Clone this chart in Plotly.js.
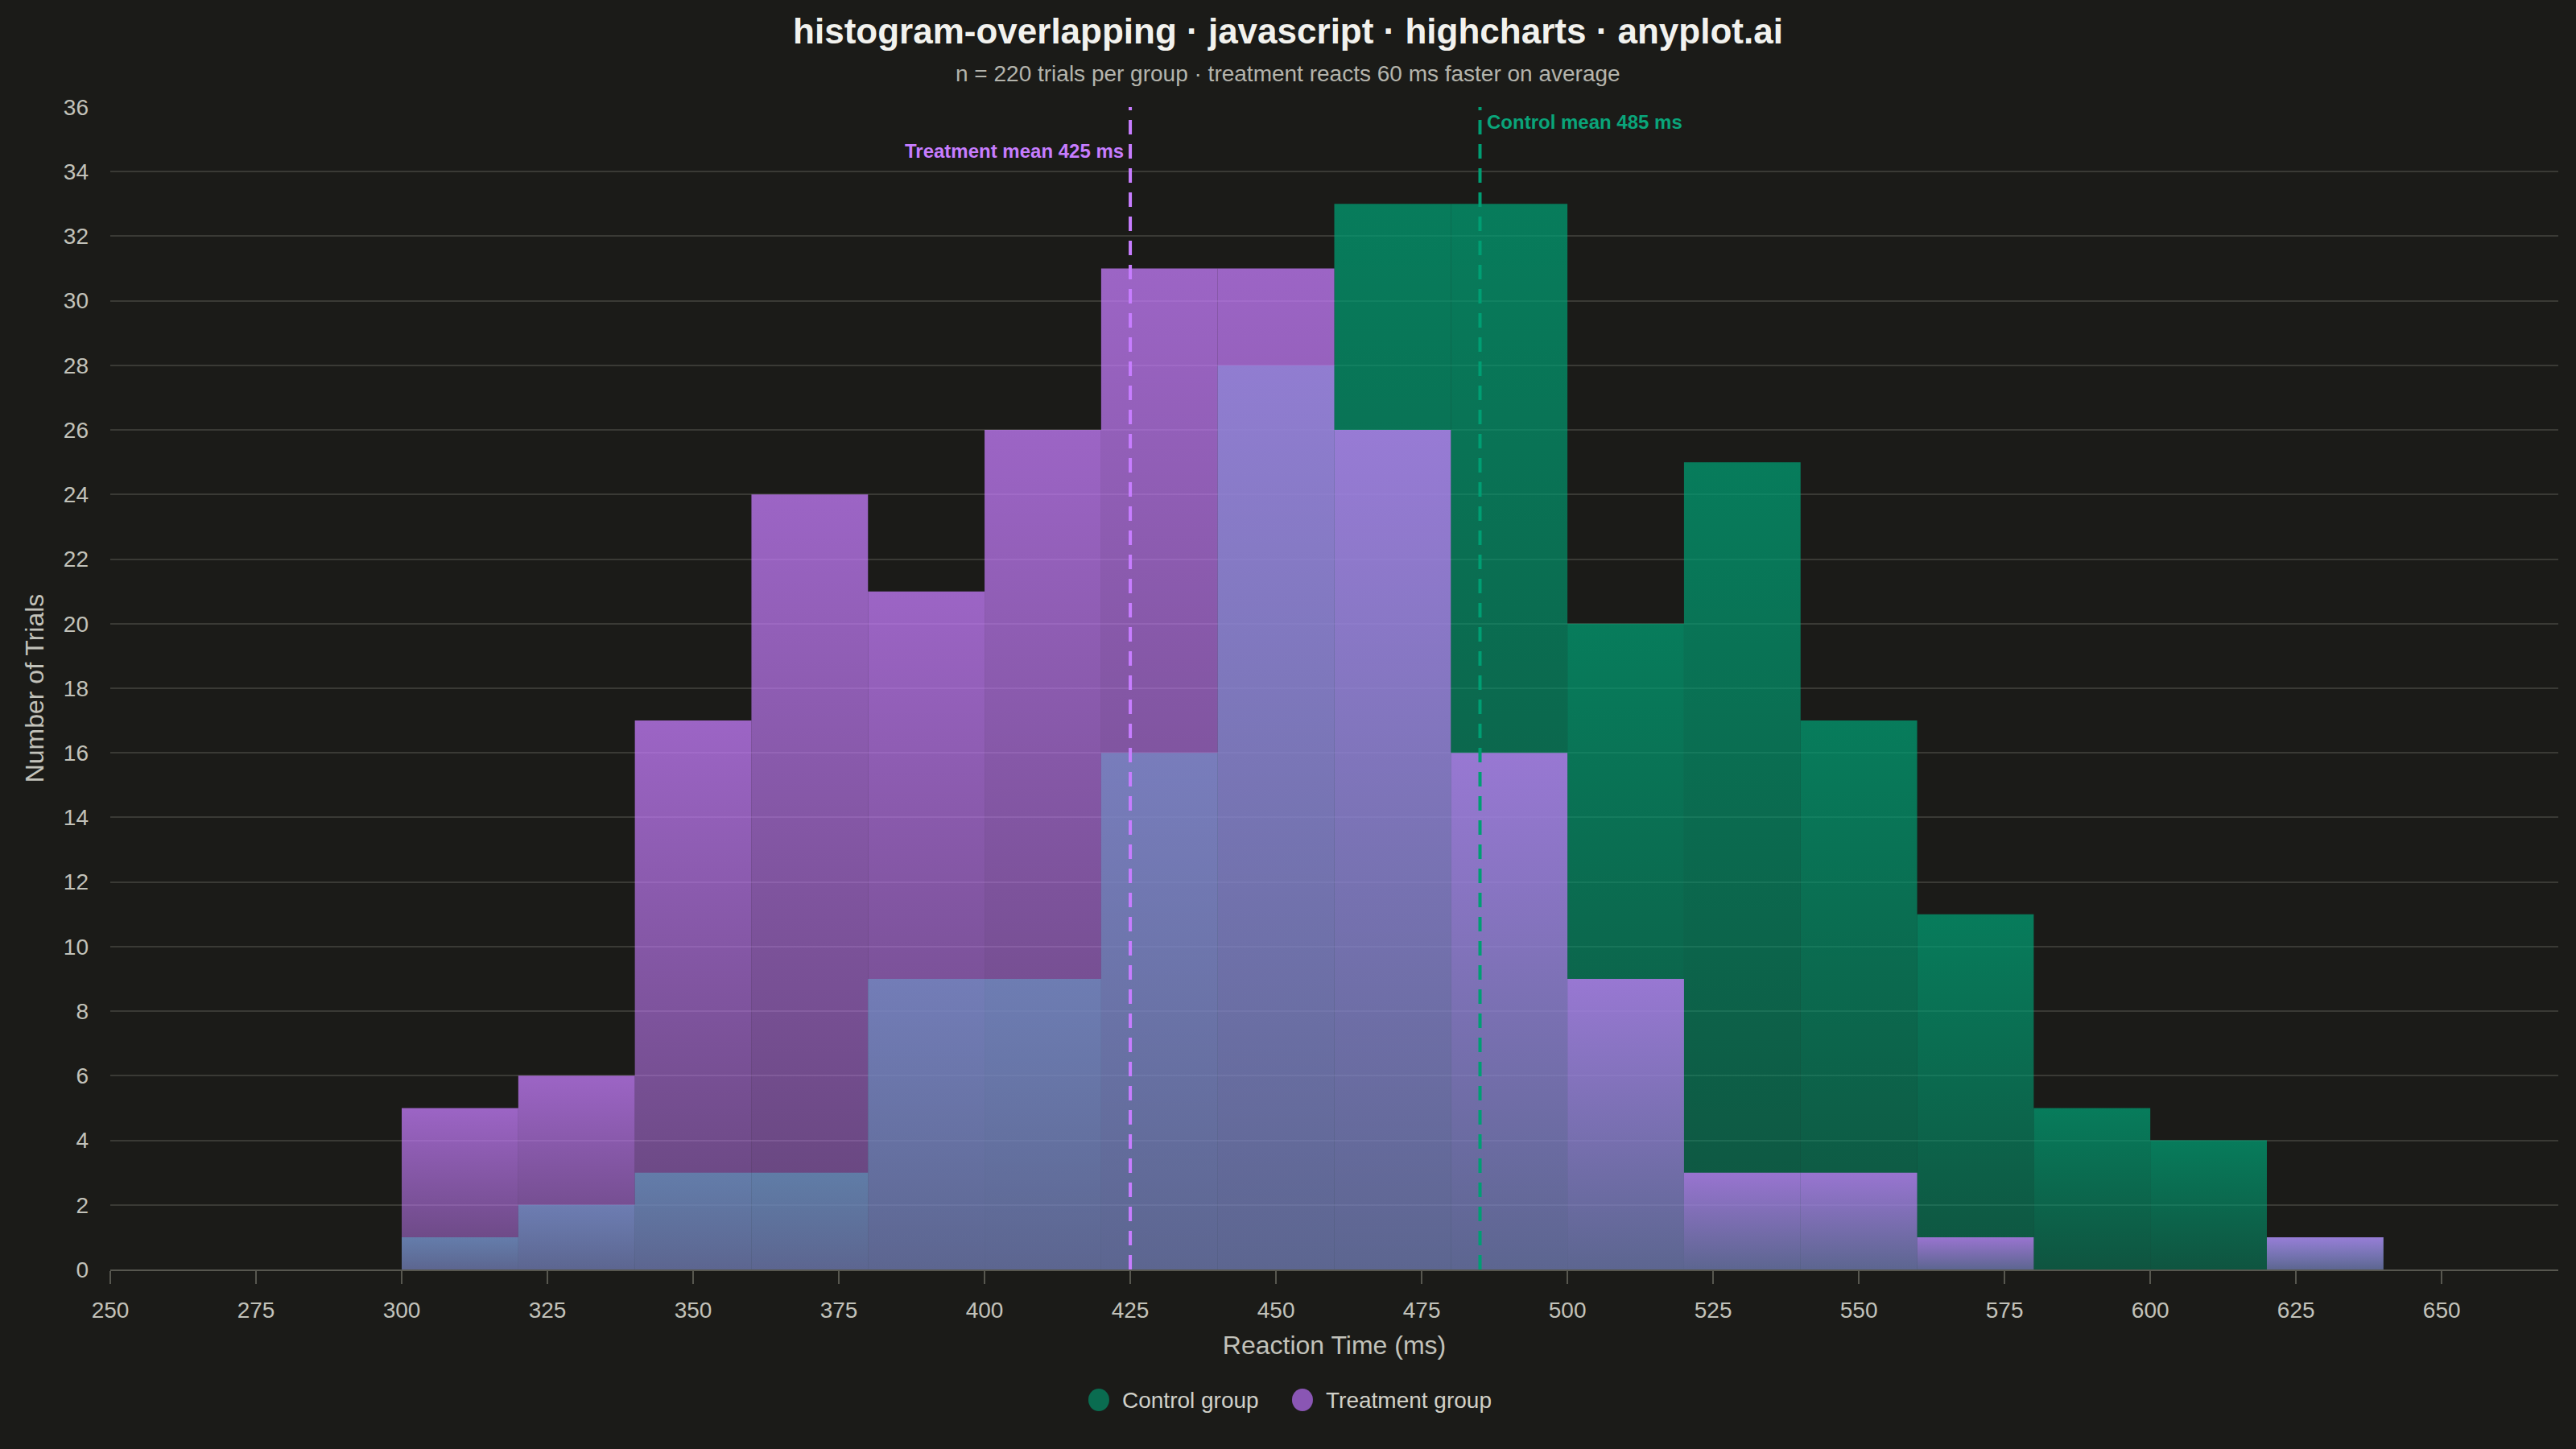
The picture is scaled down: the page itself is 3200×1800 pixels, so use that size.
<!DOCTYPE html>
<html>
<head>
<meta charset="utf-8">
<script src="https://cdn.plot.ly/plotly-3.0.1.min.js"></script>
<style>
  html, body { margin: 0; padding: 0; background: #1b1b18; }
  #chart { width: 3200px; height: 1800px; }
</style>
</head>
<body>
<div id="chart"></div>
<script>
// bins of 20 ms, left edges
var binStart = [300, 320, 340, 360, 380, 400, 420, 440, 460, 480, 500, 520, 540, 560, 580, 600, 620];
var binWidth = 20;
var controlCounts   = [1, 2, 3, 3, 9, 9, 16, 28, 33, 33, 20, 25, 17, 11, 5, 4, 1];
var treatmentCounts = [5, 6, 17, 24, 21, 26, 31, 31, 26, 16, 9, 3, 3, 1, 0, 0, 1];
var controlMean = 485;
var treatmentMean = 425;
var groupNames = ["Control group", "Treatment group"];

var font = "Liberation Sans, Arial, sans-serif";
var green = '#009E73';
var purple = '#C77DFF';

// one filled column per bin so each bar gets its own top-to-bottom gradient
function histColumns(counts, rgb, aBottom, aTop, name) {
  var out = [];
  counts.forEach(function (c, i) {
    if (c === 0) return;
    var x0 = binStart[i], x1 = binStart[i] + binWidth;
    out.push({
      type: 'scatter',
      mode: 'lines',
      name: name,
      x: [x0, x0, x1, x1, x0],
      y: [0, c, c, 0, 0],
      fill: 'toself',
      fillgradient: {
        type: 'vertical',
        colorscale: [[0, 'rgba(' + rgb + ',' + aBottom + ')'], [1, 'rgba(' + rgb + ',' + aTop + ')']]
      },
      line: { width: 0 },
      showlegend: false,
      hoverinfo: 'skip'
    });
  });
  return out;
}

var data = histColumns(controlCounts, '0,158,115', 0.44, 0.74, groupNames[0])
  .concat(histColumns(treatmentCounts, '199,125,255', 0.42, 0.75, groupNames[1]));

var layout = {
  width: 3200,
  height: 1800,
  paper_bgcolor: '#1b1b18',
  plot_bgcolor: '#1b1b18',
  font: { family: font, color: '#c2c2ba', size: 28 },
  margin: { l: 137, r: 22, t: 133, b: 223 },
  showlegend: false,
  title: {
    text: "<b>histogram-overlapping · javascript · highcharts · anyplot.ai</b>",
    font: { family: font, size: 44, color: '#f2f2ee' },
    x: 0.5, xanchor: 'center',
    y: 1 - 39 / 1800, yref: 'container', yanchor: 'middle'
  },
  xaxis: {
    title: { text: "Reaction Time (ms)", font: { size: 32, color: '#c2c2ba' }, standoff: 18 },
    range: [250, 670],
    tick0: 250,
    dtick: 25,
    showgrid: false,
    zeroline: false,
    showline: true,
    linecolor: '#57574f',
    linewidth: 2,
    ticks: 'outside',
    ticklen: 16,
    tickwidth: 2,
    tickcolor: '#57574f',
    ticklabelstandoff: 8,
    tickfont: { size: 28, color: '#c2c2ba' },
    fixedrange: true
  },
  yaxis: {
    title: { text: "Number of Trials", font: { size: 32, color: '#c2c2ba' }, standoff: 14 },
    range: [0, 36],
    dtick: 2,
    gridcolor: '#3a3a35',
    gridwidth: 2,
    zeroline: false,
    showline: false,
    ticks: '',
    ticklabelstandoff: 26,
    tickfont: { size: 28, color: '#c2c2ba' },
    fixedrange: true
  },
  shapes: [
    {
      type: 'line', xref: 'x', yref: 'paper',
      x0: treatmentMean, x1: treatmentMean, y0: 0, y1: 1,
      line: { color: purple, width: 4, dash: '18px,12px' }
    },
    {
      type: 'line', xref: 'x', yref: 'paper',
      x0: controlMean, x1: controlMean, y0: 0, y1: 1,
      line: { color: green, width: 4, dash: '18px,12px' }
    },
    // legend keys
    {
      type: 'circle', xref: 'paper', yref: 'paper',
      xsizemode: 'pixel', ysizemode: 'pixel',
      xanchor: 0.4038, yanchor: -0.1122,
      x0: -13, x1: 13, y0: -14, y1: 14,
      fillcolor: '#0a6c50', line: { width: 0 }
    },
    {
      type: 'circle', xref: 'paper', yref: 'paper',
      xsizemode: 'pixel', ysizemode: 'pixel',
      xanchor: 0.4870, yanchor: -0.1122,
      x0: -13, x1: 13, y0: -14, y1: 14,
      fillcolor: '#8a56b4', line: { width: 0 }
    }
  ],
  annotations: [
    {
      text: "n = 220 trials per group · treatment reacts 60 ms faster on average",
      xref: 'paper', yref: 'paper', x: 0.4811, y: 1.0284,
      xanchor: 'center', yanchor: 'middle', showarrow: false,
      font: { size: 28, color: '#b4b4ac' }
    },
    {
      text: "<b>Treatment mean " + treatmentMean + " ms</b>",
      x: treatmentMean, y: 34.65, xref: 'x', yref: 'y',
      xanchor: 'right', yanchor: 'middle', xshift: -6, showarrow: false,
      font: { size: 24, color: purple }
    },
    {
      text: "<b>Control mean " + controlMean + " ms</b>",
      x: controlMean, y: 35.55, xref: 'x', yref: 'y',
      xanchor: 'left', yanchor: 'middle', xshift: 6, showarrow: false,
      font: { size: 24, color: '#0aa57a' }
    },
    {
      text: groupNames[0],
      xref: 'paper', yref: 'paper', x: 0.4127, y: -0.1122,
      xanchor: 'left', yanchor: 'middle', showarrow: false,
      font: { size: 28, color: '#d0d0c8' }
    },
    {
      text: groupNames[1],
      xref: 'paper', yref: 'paper', x: 0.4959, y: -0.1122,
      xanchor: 'left', yanchor: 'middle', showarrow: false,
      font: { size: 28, color: '#d0d0c8' }
    }
  ]
};

Plotly.newPlot('chart', data, layout, { displayModeBar: false, staticPlot: true });
</script>
</body>
</html>
